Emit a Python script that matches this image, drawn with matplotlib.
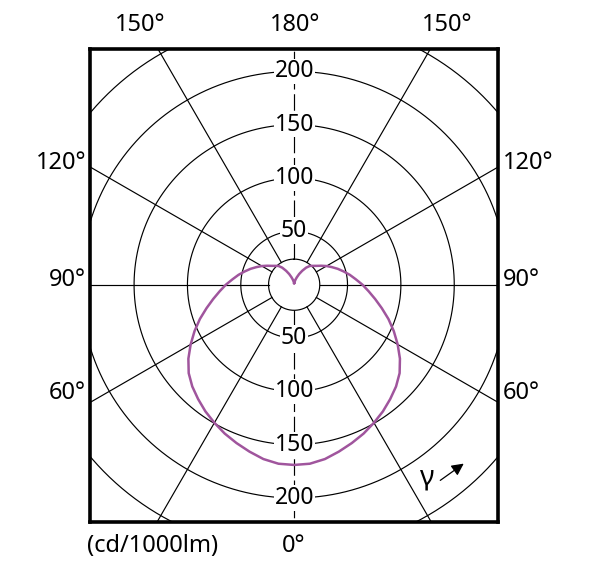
import numpy as np
import matplotlib
matplotlib.use("Agg")
from matplotlib import pyplot as plt

plt.rcParams['font.family'] = ['Noto Sans', 'DejaVu Sans']

# luminous intensity (cd/1000lm) vs gamma, one half (symmetric)
gamma = [0, 5, 10, 15, 20, 25, 30, 35, 40, 45, 50, 55, 60, 65, 70, 75, 80, 85,
         90, 95, 100, 105, 110, 115, 120, 125, 130, 135, 140, 145, 150, 155,
         160, 165, 170, 175, 180]
intensity = [169, 168.5, 166, 162, 158, 154, 149.5, 145, 140, 135, 129, 121,
             112, 103, 94, 85, 77, 70, 64, 58, 53, 48, 43.5, 39, 35, 31, 27.5,
             25, 23, 19.5, 15, 11, 7.5, 5, 3, 2, 1.5]

rings = [50, 100, 150, 200, 250]
ring_labels = [50, 100, 150, 200]
inner_r = 24
spokes = list(range(0, 360, 30))

top_labels = ["150°", "180°", "150°"]
left_labels = ["120°", "90°", "60°"]
right_labels = ["120°", "90°", "60°"]
unit_text = "(cd/1000lm)"

W, H = 600, 586
fig = plt.figure(figsize=(W / 100, H / 100), dpi=100)
ax = fig.add_axes([90 / W, (H - 522) / H, 408 / W, 473 / H])
ax.set_xlim(-191.3, 191.0)
ax.set_ylim(-222.5, 221.0)
ax.set_xticks([])
ax.set_yticks([])
for s in ax.spines.values():
    s.set_linewidth(2.6)
    s.set_zorder(10)

t = np.linspace(0, 2 * np.pi, 400)
for r in rings:
    ax.plot(r * np.sin(t), r * np.cos(t), color='black', lw=0.85, zorder=1)
ax.plot(inner_r * np.sin(t), inner_r * np.cos(t), color='black', lw=0.85, zorder=1)

for a in spokes:
    th = np.radians(a)
    ls = (0, (14, 4)) if a in (0, 180) else '-'
    ax.plot([inner_r * np.sin(th), 400 * np.sin(th)],
            [inner_r * np.cos(th), 400 * np.cos(th)],
            color='black', lw=0.85, linestyle=ls, zorder=1)

for v in ring_labels:
    for sign in (1, -1):
        ax.text(0, sign * v, str(v), ha='center', va='center', fontsize=16.5,
                zorder=3,
                bbox=dict(facecolor='white', edgecolor='none', pad=0.5))

# curve: gamma measured from downward vertical, mirrored to the left side
g = np.radians(np.array(gamma))
I = np.array(intensity)
x = np.concatenate([-(I * np.sin(g))[::-1], (I * np.sin(g))[1:]])
y = np.concatenate([-(I * np.cos(g))[::-1], -(I * np.cos(g))[1:]])
ax.plot(x, y, color='#a0559d', lw=1.8, zorder=5, solid_joinstyle='round')

fs = 17
for lab, px in zip(top_labels, [140, 295, 447]):
    fig.text(px / W, 1 - 25 / H, lab, ha='center', va='center', fontsize=fs)
for lab, py in zip(left_labels, [163, 280, 393]):
    fig.text(86 / W, 1 - py / H, lab, ha='right', va='center', fontsize=fs)
for lab, py in zip(right_labels, [163, 280, 393]):
    fig.text(503 / W, 1 - py / H, lab, ha='left', va='center', fontsize=fs)
fig.text(294 / W, 1 - 546 / H, "0°", ha='center', va='center', fontsize=fs)
fig.text(153 / W, 1 - 546 / H, unit_text, ha='center', va='center', fontsize=fs)

fig.text(427 / W, 1 - 478 / H, "γ", ha='center', va='center', fontsize=20)
fig.patches.append(matplotlib.patches.FancyArrowPatch(
    (438 / W, 1 - 482 / H), (466 / W, 1 - 462 / H),
    transform=fig.transFigure, arrowstyle='-|>', mutation_scale=18,
    color='black', lw=0.9))

fig.savefig("out.png", dpi=100)
